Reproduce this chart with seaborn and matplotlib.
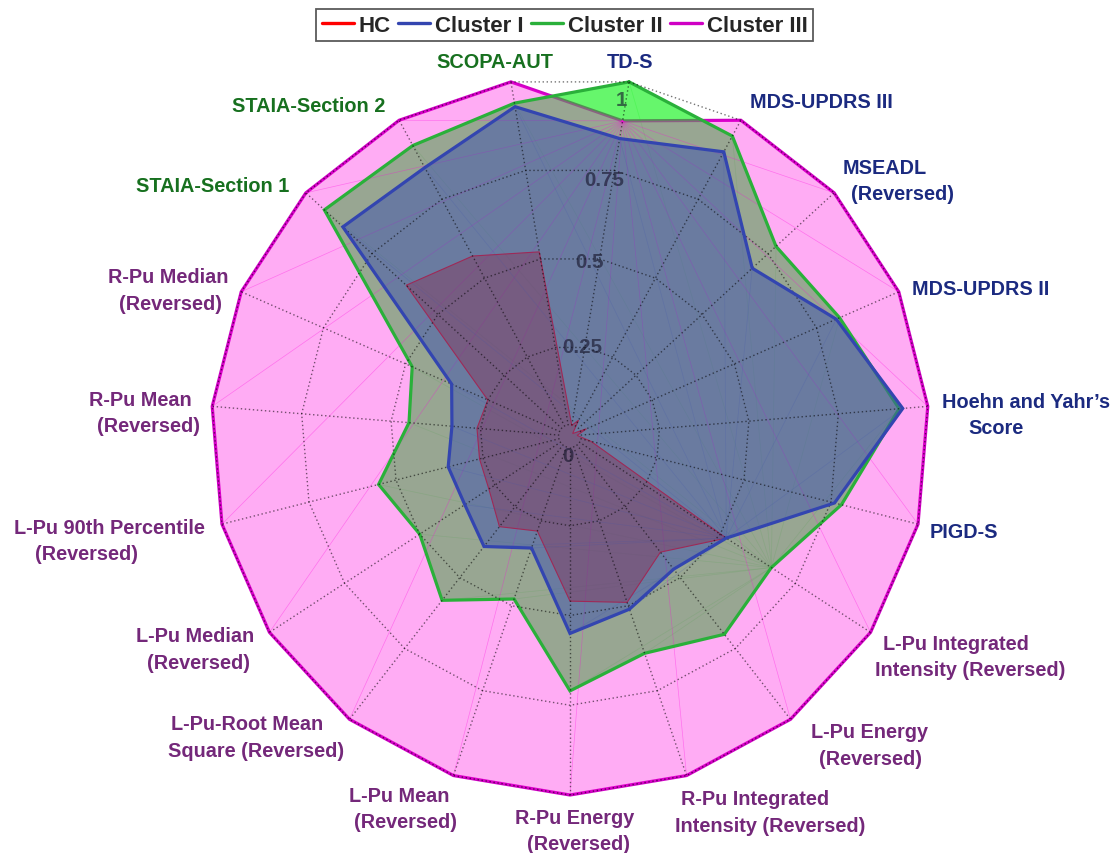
import numpy as np
import pandas as pd
import matplotlib
matplotlib.use("Agg")
import matplotlib.pyplot as plt
from matplotlib.lines import Line2D
import seaborn as sns

# ---------------------------------------------------------------- data
AXIS_LABELS = [
    "TD-S", "MDS-UPDRS III", "MSEADL\n(Reversed)", "MDS-UPDRS II",
    "Hoehn and Yahr\u2019s\nScore", "PIGD-S",
    "L-Pu Integrated\nIntensity (Reversed)", "L-Pu Energy\n(Reversed)",
    "R-Pu Integrated\nIntensity (Reversed)", "R-Pu Energy\n(Reversed)",
    "L-Pu Mean\n(Reversed)", "L-Pu-Root Mean\nSquare (Reversed)",
    "L-Pu Median\n(Reversed)", "L-Pu 90th Percentile\n(Reversed)",
    "R-Pu Mean\n(Reversed)", "R-Pu Median\n(Reversed)",
    "STAIA-Section 1", "STAIA-Section 2", "SCOPA-AUT",
]
AXIS_GROUP = ["motor"] * 6 + ["imaging"] * 10 + ["nonmotor"] * 3

SERIES = ["HC", "Cluster I", "Cluster II", "Cluster III"]
HC = [0.03, 0.05, 0.01, 0.05, 0.02, 0.06, 0.52, 0.41, 0.49, 0.46,
      0.28, 0.32, 0.27, 0.26, 0.26, 0.25, 0.62, 0.57, 0.52]
CLUSTER_I = [0.84, 0.90, 0.69, 0.81, 0.93, 0.76, 0.52, 0.47, 0.51, 0.55,
             0.33, 0.39, 0.35, 0.35, 0.33, 0.36, 0.86, 0.85, 0.93]
CLUSTER_II = [1.00, 0.95, 0.78, 0.82, 0.92, 0.78, 0.67, 0.70, 0.64, 0.71,
              0.48, 0.58, 0.50, 0.55, 0.45, 0.48, 0.93, 0.92, 0.94]
CLUSTER_III = [0.89, 1.00, 1.00, 1.00, 1.00, 1.00, 1.00, 1.00, 1.00, 1.00,
               1.00, 1.00, 1.00, 1.00, 1.00, 1.00, 1.00, 1.00, 1.00]
RING_LEVELS = [0, 0.25, 0.5, 0.75, 1]
RING_TEXT = ["0", "0.25", "0.5", "0.75", "1"]

# ---------------------------------------------------------------- style
W, H = 1115, 854
CX, CY, RAD = 570, 437, 359           # chart centre / radius in pixels

LINE_COL = {"HC": "#FF0000", "Cluster I": "#3345B0",
            "Cluster II": "#2AB03A", "Cluster III": "#CF00C4"}
FILL = {"HC": ("#D01000", 0.42), "Cluster I": ("#3E52AE", 0.50),
        "Cluster II": ("#00F00A", 0.60), "Cluster III": ("#FF03E0", 0.33)}
# stacking: magenta edge < green fill < magenta fill < green edge
#           < red fill/edge < blue fill < grid < blue edge < tick text
Z_LINE = {"Cluster III": 2, "Cluster II": 5, "HC": 7, "Cluster I": 9}
Z_FILL = {"Cluster II": 3, "Cluster III": 4, "HC": 6, "Cluster I": 8}
Z_GRID = 8.5
LINE_W = {"HC": 0.8, "Cluster I": 2.3, "Cluster II": 2.3, "Cluster III": 2.3}
# vertex from which the faint fill seams fan out
SEAM_FROM = {"Cluster III": 0, "Cluster II": 6, "Cluster I": 6}
SEAM_ALPHA = {"Cluster III": 0.35, "Cluster II": 0.22, "Cluster I": 0.22}
GROUP_COL = {"motor": "#1B2A80", "imaging": "#74287A", "nonmotor": "#17701F"}

# pixel centres of each text line of the axis labels
LABEL_LINES_XY = [
    [(630, 62)], [(821, 102)], [(885, 168), (902, 195)], [(981, 290)],
    [(1026, 403), (996, 429)], [(964, 533)],
    [(956, 645), (970, 671)], [(869, 733), (870, 760)],
    [(755, 800), (770, 827)], [(575, 819), (578, 845)],
    [(399, 797), (406, 823)], [(247, 725), (256, 752)],
    [(195, 637), (198, 664)], [(109, 528), (87, 555)],
    [(140, 400), (148, 427)], [(168, 278), (171, 305)],
    [(213, 187)], [(309, 107)], [(495, 62)],
]
RING_XY = [(568, 457), (582, 348), (590, 262), (604, 180), (621, 101)]

sns.set_theme(style="white")
plt.rcParams["font.family"] = ["Liberation Sans", "DejaVu Sans"]
plt.rcParams["font.weight"] = "bold"

fig = plt.figure(figsize=(W / 100, H / 100), dpi=100)
ax = fig.add_axes([(CX - RAD) / W, 1 - (CY + RAD) / H, 2 * RAD / W, 2 * RAD / H],
                  projection="polar")
ax.set_theta_zero_location("N")
ax.set_theta_direction(-1)
ax.set_ylim(0, 1)
ax.axis("off")


def fx(x, y):
    return x / W, 1 - y / H


n = len(AXIS_LABELS)
theta = (np.arange(n) + 0.5) * 2 * np.pi / n
theta_closed = np.append(theta, theta[0] + 2 * np.pi)

# dotted polygon grid and spokes
dots = (0, (1, 1.9))
grid_kw = dict(color="black", lw=1.0, alpha=0.55, ls=dots, zorder=Z_GRID,
               clip_on=False)
for lvl in RING_LEVELS[1:]:
    ax.plot(theta_closed, [lvl] * (n + 1), **grid_kw)
for t in theta:
    ax.plot([t, t], [0.03, 1], **grid_kw)

# radial tick labels: translucent dark text so the areas tint it
for txt, (x, y) in zip(RING_TEXT, RING_XY):
    ax.text(*fx(x, y), txt, transform=fig.transFigure, ha="center",
            va="center", fontsize=14.8, fontweight="bold", color="#15152a",
            alpha=0.62, zorder=10)

# long-form table of the profiles
values = {"HC": HC, "Cluster I": CLUSTER_I, "Cluster II": CLUSTER_II,
          "Cluster III": CLUSTER_III}
frames = []
for name in SERIES:
    v = np.asarray(values[name], dtype=float)
    frames.append(pd.DataFrame({"theta": theta_closed,
                                "value": np.append(v, v[0]),
                                "series": name,
                                "step": np.arange(n + 1)}))
df = pd.concat(frames, ignore_index=True)

for name in SERIES:
    d = df[df["series"] == name]
    fc, fa = FILL[name]
    patches = ax.fill(d["theta"], d["value"], color=fc, alpha=fa, lw=0,
                      zorder=Z_FILL[name])
    for p in patches:
        p.set_clip_on(False)
    # faint seams across the filled area
    if name in SEAM_FROM:
        k = SEAM_FROM[name]
        tk, vk = d["theta"].iloc[k], d["value"].iloc[k]
        for j in range(n):
            if j in (k, (k + 1) % n, (k - 1) % n):
                continue
            ax.plot([tk, d["theta"].iloc[j]], [vk, d["value"].iloc[j]],
                    color=fc, lw=0.5, alpha=SEAM_ALPHA[name],
                    zorder=Z_FILL[name] + 0.1, clip_on=False)
    before = len(ax.lines)
    sns.lineplot(data=d, x="theta", y="value", sort=False, estimator=None,
                 color=LINE_COL[name], lw=LINE_W[name], ax=ax, legend=False)
    for ln in ax.lines[before:]:
        ln.set_zorder(Z_LINE[name])
        ln.set_clip_on(False)
        ln.set_solid_joinstyle("miter")

# axis labels
for label, grp, xy in zip(AXIS_LABELS, AXIS_GROUP, LABEL_LINES_XY):
    for line, (x, y) in zip(label.split("\n"), xy):
        fig.text(*fx(x, y), line, ha="center", va="center", fontsize=14.3,
                 fontweight="bold", color=GROUP_COL[grp])

# legend
handles = [Line2D([0], [0], color=LINE_COL[s], lw=2.4) for s in SERIES]
leg = fig.legend(handles, SERIES, loc="center",
                 bbox_to_anchor=fx(564.5, 26), ncol=4, frameon=True,
                 fancybox=False, edgecolor="#5a5a5a", framealpha=1,
                 handlelength=1.45, handletextpad=0.2, columnspacing=0.35,
                 borderpad=0.25, borderaxespad=0,
                 prop={"weight": "bold", "size": 16})
leg.get_frame().set_linewidth(1.3)

fig.savefig("out.png", dpi=100, facecolor="white")
